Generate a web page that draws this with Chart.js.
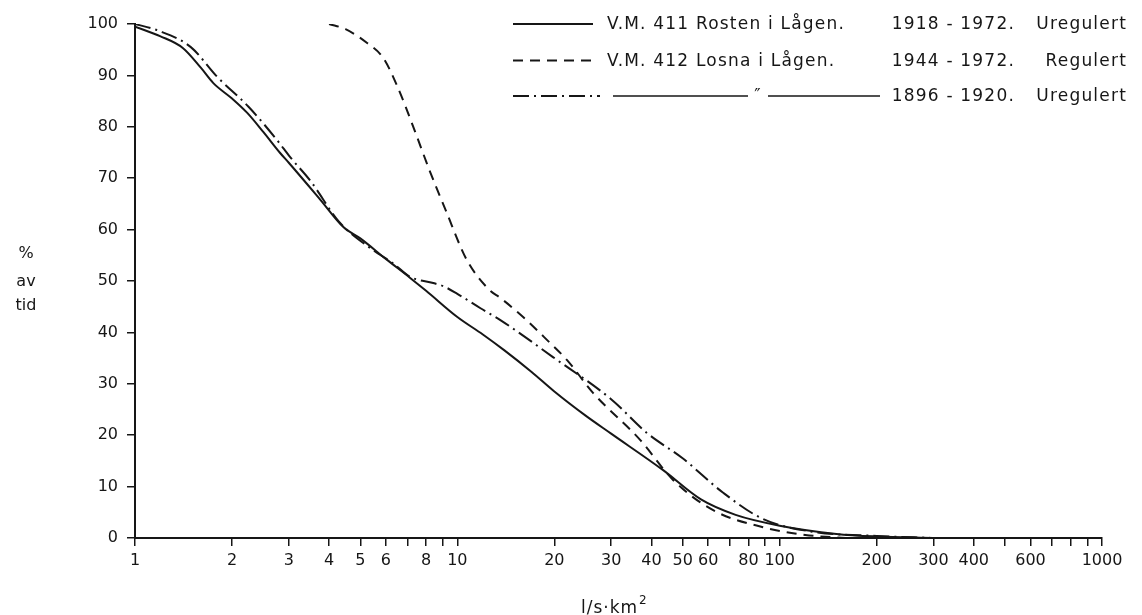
<!DOCTYPE html>
<html><head><meta charset="utf-8">
<script src="https://cdn.jsdelivr.net/npm/chart.js@4.4.1/dist/chart.umd.min.js"></script>
<style>html,body{margin:0;padding:0;background:#fff;}#wrap{width:1142px;height:615px;}</style>
</head><body><div id="wrap"><canvas id="c" width="1142" height="615"></canvas></div>
<script>
// ---- data ----
const rostenX = [1, 1.2, 1.41, 1.6, 1.75, 2, 2.23, 2.5, 2.82, 3, 3.76, 4.43, 5, 6, 7.14, 8, 10, 12, 14, 17, 20, 25, 30, 43.5, 57, 73, 100, 150, 200, 300];
const rostenY = [99.5, 97.6, 95.3, 91.5, 88.5, 85.5, 82.7, 79, 74.9, 73, 65.8, 60.5, 58.3, 54.3, 50.6, 48.1, 43, 39.6, 36.5, 32.3, 28.5, 23.8, 20.3, 13.2, 7.5, 4.5, 2.4, 0.8, 0.3, 0];

const losnaX = [4, 4.5, 5.25, 5.89, 6.5, 7.3, 8.2, 9.2, 10.7, 12.6, 13.6, 16, 19, 21.9, 26.4, 36.9, 46.7, 62.2, 88.8, 120, 160];
const losnaY = [100, 99, 96.3, 93.4, 88, 80, 71.5, 63.8, 54.1, 48.2, 46.7, 43, 38.5, 34.6, 28.2, 19.1, 11.3, 5.4, 2.1, 0.6, 0];

const oldX = [1, 1.17, 1.49, 1.8, 2.25, 2.76, 3.03, 3.5, 4.3, 5.48, 6.3, 7.14, 8.42, 9.04, 10, 11.8, 13.6, 19.8, 30, 38.8, 50, 66.8, 88.8, 127, 200, 300];
const oldY = [100, 98.8, 95.5, 89.7, 83.9, 77.4, 74.1, 69.5, 61.5, 56, 53.5, 50.8, 49.6, 49, 47.5, 44.7, 42.4, 35.2, 27, 20.4, 15.5, 8.8, 3.7, 1.2, 0.4, 0];

const xLabelTicks = [1, 2, 3, 4, 5, 6, 8, 10, 20, 30, 40, 50, 60, 80, 100, 200, 300, 400, 600, 1000];
const xAllTicks = [1,2,3,4,5,6,7,8,9,10,20,30,40,50,60,70,80,90,100,200,300,400,500,600,700,800,900,1000];
const yTicks = [0, 10, 20, 30, 40, 50, 60, 70, 80, 90, 100];

const legendNames = ['V.M. 411 Rosten i Lågen.', 'V.M. 412 Losna i Lågen.', ''];
const legendYears = ['1918 - 1972.', '1944 - 1972.', '1896 - 1920.'];
const legendStatus = ['Uregulert', 'Regulert', 'Uregulert'];
const yTitle = ['%', 'av', 'tid'];
const xTitle = 'l/s·km';

// ---- styling ----
const FONT = '"DejaVu Sans", sans-serif';
const INK = '#161616';
const DASH = [10, 7];
const DASHDOT = [16, 5, 2, 5];

function pts(xs, ys) { return xs.map((x, i) => ({ x: x, y: ys[i] })); }

const annot = {
  id: 'annot',
  afterDraw(chart) {
    const ctx = chart.ctx;
    ctx.save();
    ctx.fillStyle = INK;
    ctx.strokeStyle = INK;
    ctx.lineWidth = 2;
    // legend
    const rows = [24, 60.5, 96];
    const dashes = [[], DASH, DASHDOT];
    ctx.font = '17px ' + FONT;
    try { ctx.letterSpacing = '1.2px'; } catch (e) {}
    ctx.textBaseline = 'middle';
    rows.forEach((ry, i) => {
      ctx.setLineDash(dashes[i]);
      ctx.beginPath(); ctx.moveTo(513, ry); ctx.lineTo(i === 2 ? 600 : 593, ry); ctx.stroke();
      ctx.setLineDash([]);
      ctx.textAlign = 'left';
      if (legendNames[i]) ctx.fillText(legendNames[i], 607, ry + 1);
      ctx.textAlign = 'right';
      ctx.fillText(legendYears[i], 1015, ry + 1);
      ctx.fillText(legendStatus[i], 1127, ry + 1);
    });
    // ditto row
    ctx.lineWidth = 1.5;
    ctx.beginPath(); ctx.moveTo(613, rows[2]); ctx.lineTo(748, rows[2]); ctx.stroke();
    ctx.beginPath(); ctx.moveTo(768, rows[2]); ctx.lineTo(880, rows[2]); ctx.stroke();
    ctx.textAlign = 'center';
    ctx.fillText('\u2033', 758, rows[2] + 1);
    try { ctx.letterSpacing = '0px'; } catch (e) {}
    // y title
    ctx.font = '16px ' + FONT;
    ctx.textAlign = 'center';
    ctx.fillText(yTitle[0], 26, 254);
    ctx.fillText(yTitle[1], 26, 282);
    ctx.fillText(yTitle[2], 26, 306);
    // x title
    ctx.textBaseline = 'alphabetic';
    ctx.font = '17px ' + FONT;
    try { ctx.letterSpacing = '1px'; } catch (e) {}
    ctx.textAlign = 'left';
    const w = ctx.measureText(xTitle).width;
    const x0 = 614 - (w + 9) / 2;
    ctx.fillText(xTitle, x0, 613);
    ctx.font = '12px ' + FONT;
    ctx.fillText('2', x0 + w + 1, 604);
    ctx.restore();
  }
};

const common = { borderColor: INK, borderWidth: 2, pointRadius: 0, fill: false, cubicInterpolationMode: 'monotone' };

new Chart(document.getElementById('c'), {
  type: 'line',
  data: {
    datasets: [
      Object.assign({ label: legendNames[0], data: pts(rostenX, rostenY) }, common),
      Object.assign({ label: legendNames[1], data: pts(losnaX, losnaY), borderDash: DASH }, common),
      Object.assign({ label: legendYears[2], data: pts(oldX, oldY), borderDash: DASHDOT }, common)
    ]
  },
  options: {
    responsive: false,
    animation: false,
    devicePixelRatio: 1,
    layout: { padding: { top: 24, right: 40, left: 0, bottom: 0 } },
    plugins: { legend: { display: false }, tooltip: { enabled: false } },
    scales: {
      x: {
        type: 'logarithmic', min: 1, max: 1000,
        afterBuildTicks(s) { s.ticks = xAllTicks.map(v => ({ value: v })); },
        afterFit(s) { s.height = 77; },
        ticks: {
          autoSkip: false, maxRotation: 0, minRotation: 0, color: INK, padding: 5,
          font: { family: FONT, size: 16 },
          callback(v) { return xLabelTicks.some(t => Math.abs(t - v) < 1e-6) ? String(v) : ''; }
        },
        grid: { drawOnChartArea: false, drawTicks: true, tickLength: 8, color: INK, lineWidth: 1.5 },
        border: { display: true, color: INK, width: 2 }
      },
      y: {
        min: 0, max: 100,
        afterBuildTicks(s) { s.ticks = yTicks.map(v => ({ value: v })); },
        afterFit(s) { s.width = 135; },
        ticks: { color: INK, padding: 9, font: { family: FONT, size: 16 } },
        grid: { drawOnChartArea: false, drawTicks: true, tickLength: 8, color: INK, lineWidth: 1.5 },
        border: { display: true, color: INK, width: 2 }
      }
    }
  },
  plugins: [annot]
});
</script>
</body></html>
